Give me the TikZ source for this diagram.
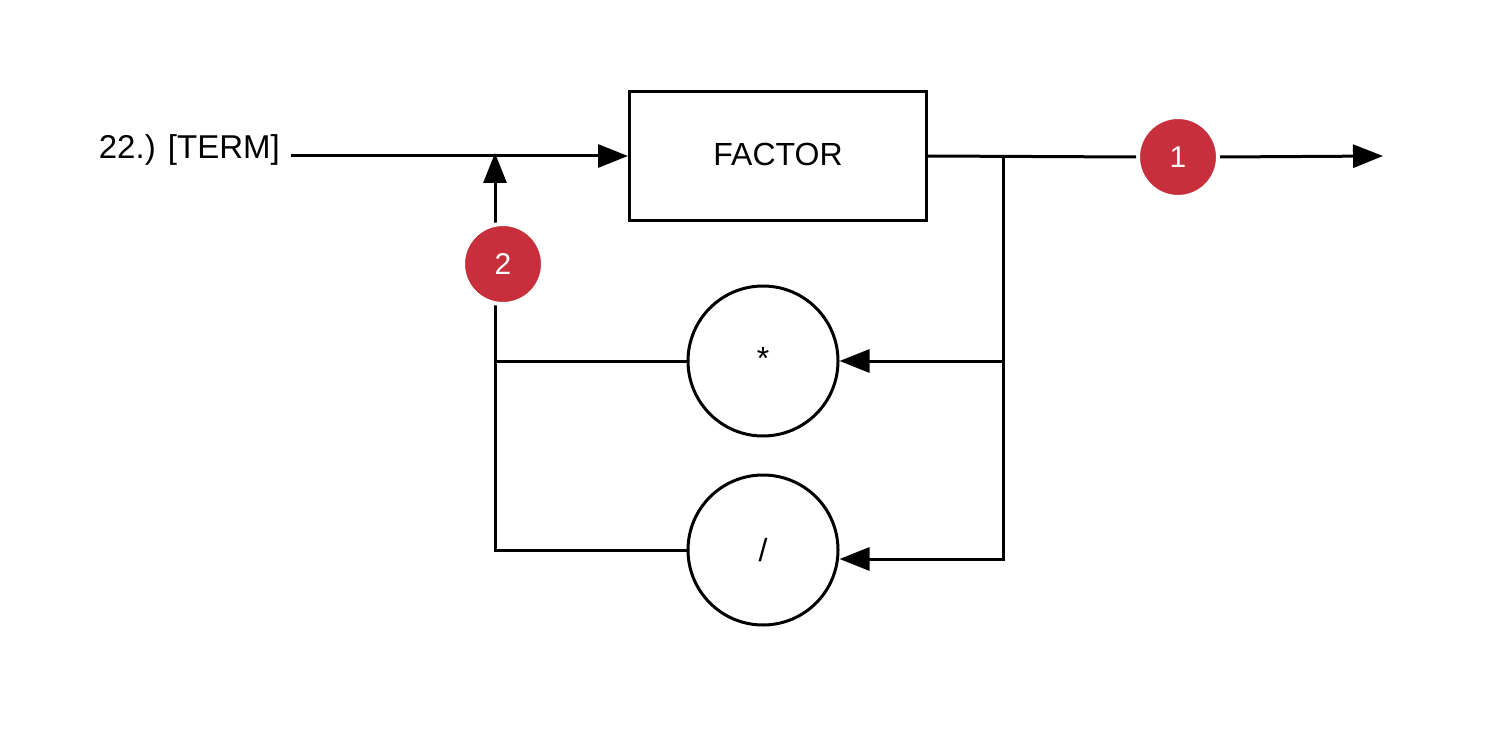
\documentclass[tikz,border=0pt]{standalone}
\usepackage{fontspec}
\setmainfont{Liberation Sans}
\usepackage{xcolor}
\usepackage{tikz}
\usetikzlibrary{arrows.meta,positioning}
\definecolor{badgered}{HTML}{C62F3B}

\begin{document}
\begin{tikzpicture}[x=1pt,y=-1pt, font=\fontsize{32}{38}\selectfont,
 box/.style={draw,line width=3pt,minimum width=297pt,minimum height=129pt,inner sep=0pt},
 op/.style={circle,draw,line width=3pt,minimum size=150pt,inner sep=0pt},
 badge/.style={circle,fill=badgered,draw=white,line width=4pt,minimum size=80pt,inner sep=0pt,text=white,font=\fontsize{30}{36}\selectfont},
 ln/.style={line width=3pt},
 arr/.style={-{Triangle[length=30pt,width=23pt]},line width=3pt}]
\useasboundingbox (0,0) rectangle (1493,746);
\node[anchor=base east,inner xsep=11pt,font=\fontsize{33}{40}\selectfont] (term) at (291,159) {22.) [TERM]};
\node[box] (factor) at (778,156) {\raisebox{4pt}{FACTOR}};
\node[op] (mul) at (763,361) {\raisebox{5pt}{*}};
\node[op] (div) at (763,550) {/};
\node[badge] (one) at (1178,157) {1};
\coordinate (split) at (1003,156); \coordinate (join) at (495,153);
\coordinate (corner) at (495,550); \coordinate (exit) at (1383,156);
\draw[arr] (term.east |- factor.west) -- (factor.west);
\draw[ln] (factor.east) -- (one.west); \draw[arr] (one.east) -- (exit);
\draw[arr] (split) |- (mul.east); \draw[arr] (split) |- ([yshift=-9pt]div.east);
\draw[ln] (mul.west) -- (mul.west -| corner);
\draw[arr] (div.west) -- (corner) -- (join);
\node[badge] (two) at (503,264) {2};
\end{tikzpicture}
\end{document}
